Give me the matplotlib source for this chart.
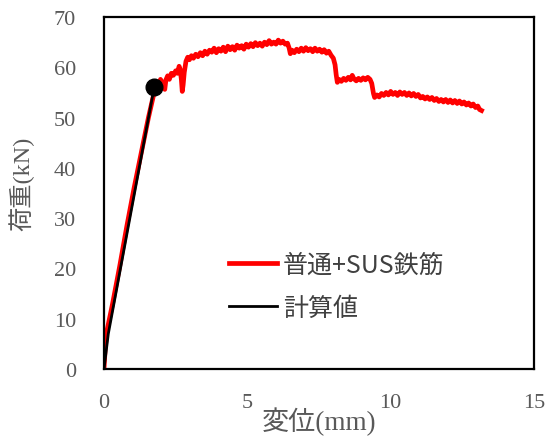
#!/usr/bin/env python3
"""荷重-変位曲線 (普通+SUS鉄筋 と 計算値)."""

import matplotlib
matplotlib.use("Agg")
import matplotlib.pyplot as plt

# 実験値 (変位 mm, 荷重 kN) -- 図から読み取り
exp_disp = [
    0.00, 0.04, 0.10, 0.30, 0.55, 0.80, 1.05, 1.30, 1.55, 1.75,
    1.85, 1.92, 1.97, 2.03, 2.08, 2.12, 2.16, 2.22, 2.28, 2.35,
    2.42, 2.50, 2.56, 2.62, 2.66, 2.70, 2.73, 2.76, 2.80, 2.86,
    2.92, 2.98, 3.05, 3.12, 3.20, 3.28, 3.36, 3.44, 3.52, 3.60,
    3.68, 3.76, 3.84, 3.92, 4.00, 4.08, 4.16, 4.24, 4.32, 4.40,
    4.48, 4.56, 4.64, 4.72, 4.80, 4.88, 4.96, 5.04, 5.12, 5.20,
    5.28, 5.36, 5.44, 5.52, 5.60, 5.68, 5.76, 5.84, 5.92, 6.00,
    6.08, 6.16, 6.24, 6.32, 6.40, 6.46, 6.50, 6.56, 6.64, 6.72,
    6.80, 6.88, 6.96, 7.04, 7.12, 7.20, 7.28, 7.36, 7.44, 7.52,
    7.60, 7.68, 7.76, 7.84, 7.92, 8.00, 8.06, 8.10, 8.14, 8.20,
    8.28, 8.36, 8.44, 8.52, 8.60, 8.66, 8.72, 8.80, 8.88, 8.96,
    9.04, 9.12, 9.20, 9.28, 9.34, 9.40, 9.44, 9.52, 9.60, 9.68,
    9.76, 9.84, 9.92, 10.00, 10.08, 10.16, 10.24, 10.32, 10.40, 10.48,
    10.56, 10.64, 10.72, 10.80, 10.88, 10.96, 11.04, 11.12, 11.20, 11.28,
    11.36, 11.44, 11.52, 11.60, 11.68, 11.76, 11.84, 11.92, 12.00, 12.08,
    12.16, 12.24, 12.32, 12.40, 12.48, 12.56, 12.64, 12.72, 12.80, 12.88,
    12.96, 13.04, 13.10, 13.17,
]
exp_load = [
    0.0, 4.0, 7.5, 13.0, 20.5, 28.5, 36.0, 43.0, 50.0, 55.0,
    56.8, 56.0, 57.6, 57.0, 56.0, 55.6, 57.5, 58.3, 57.6, 58.8,
    58.4, 59.3, 58.8, 60.2, 59.5, 57.5, 55.2, 56.5, 59.0, 61.2,
    62.0, 61.5, 62.3, 61.8, 62.6, 62.1, 62.9, 62.3, 63.2, 62.6,
    63.4, 63.0, 63.8, 62.9, 63.7, 63.2, 64.0, 63.1, 64.2, 63.5,
    64.1, 63.4, 64.4, 63.8, 64.3, 63.6, 64.6, 64.0, 64.7, 64.1,
    64.9, 64.3, 64.8, 64.2, 65.0, 64.5, 65.3, 64.6, 65.0, 64.6,
    65.4, 64.8, 65.2, 64.6, 64.8, 63.8, 62.7, 63.4, 62.9, 63.6,
    63.1, 63.8, 63.2, 63.9, 63.3, 63.7, 63.1, 63.8, 63.2, 63.6,
    63.0, 63.5, 62.8, 63.2, 62.4, 61.8, 60.5, 58.5, 57.0, 57.6,
    57.2, 57.8, 57.4, 58.0, 57.5, 58.4, 57.7, 57.3, 57.8, 57.4,
    57.9, 57.5, 58.0, 57.6, 56.8, 54.8, 54.0, 54.5, 54.1, 54.8,
    54.4, 55.0, 54.5, 55.2, 54.6, 55.0, 54.4, 55.1, 54.6, 55.0,
    54.4, 54.9, 54.3, 54.8, 54.2, 54.6, 53.9, 54.2, 53.7, 54.1,
    53.6, 54.0, 53.4, 53.8, 53.2, 53.6, 53.1, 53.6, 53.0, 53.5,
    52.9, 53.4, 52.8, 53.3, 52.7, 53.1, 52.5, 52.9, 52.3, 52.7,
    52.0, 52.3, 51.6, 51.4,
]

# 計算値
calc_disp = [0.0, 0.15, 1.75]
calc_load = [0.0, 7.0, 56.0]

x_ticks = [0, 5, 10, 15]
y_ticks = [0, 10, 20, 30, 40, 50, 60, 70]

JP_SERIF = ["Liberation Serif", "Noto Sans CJK JP"]
JP_SANS = ["Noto Sans CJK JP", "DejaVu Sans"]
GRAY = "#595959"


def main():
    fig = plt.figure(figsize=(5.5, 4.39), dpi=100)
    ax = fig.add_axes([104 / 550, 69 / 439, 430 / 550, 352 / 439])

    ax.plot(exp_disp, exp_load, color="red", linewidth=3.4,
            solid_joinstyle="round", label="普通+SUS鉄筋")
    ax.plot(calc_disp, calc_load, color="black", linewidth=2.0,
            label="計算値")
    ax.plot(calc_disp[-1], calc_load[-1], "o", color="black", markersize=12)

    ax.set_xlim(0, 15)
    ax.set_ylim(0, 70)
    ax.set_xticks(x_ticks)
    ax.set_yticks(y_ticks)
    for s in ax.spines.values():
        s.set_linewidth(1.6)
        s.set_color("black")
    ax.tick_params(length=0, labelsize=16, colors=GRAY)
    ax.tick_params(axis="x", pad=17)
    ax.tick_params(axis="y", pad=20)
    for lab in ax.get_xticklabels() + ax.get_yticklabels():
        lab.set_family("Liberation Serif")

    # 軸ラベル (Excel風の位置)
    fig.text(319 / 550, 1 - 422 / 439, "変位(mm)", family=JP_SERIF,
             fontsize=19.5, color=GRAY, ha="center", va="center")
    fig.text(21 / 550, 1 - 184 / 439, "荷重(kN)", family=JP_SERIF,
             fontsize=17.5, color=GRAY, ha="center", va="center",
             rotation=90)

    leg = ax.legend(loc="upper left", bbox_to_anchor=(229 / 550, 1 - 253 / 439),
                    bbox_transform=fig.transFigure, frameon=False,
                    borderaxespad=0, borderpad=0, handlelength=1.9,
                    handletextpad=0.25, labelspacing=0.66,
                    prop={"family": JP_SANS, "size": 18})
    for t in leg.get_texts():
        t.set_color("#404040")

    fig.savefig("out.png", dpi=100)
    plt.close(fig)


if __name__ == "__main__":
    main()
